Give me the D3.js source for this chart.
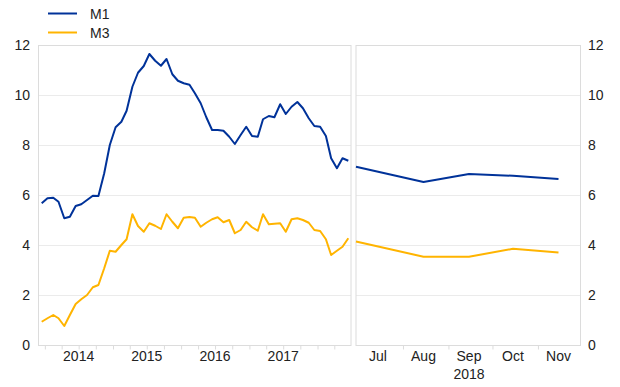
<!DOCTYPE html>
<html>
<head>
<meta charset="utf-8">
<script src="https://cdn.jsdelivr.net/npm/d3@7/dist/d3.min.js"></script>
<style>
  html, body { margin: 0; padding: 0; background: #fff; }
  text { font-family: "Liberation Sans", Arial, Helvetica, sans-serif; font-size: 14px; fill: #222; }
</style>
</head>
<body>
<svg id="chart" width="620" height="387"></svg>
<script>
// ---------- DATA ----------
const seriesNames = ["M1", "M3"];
const seriesColors = ["#003299", "#FFB400"];

// Monthly history: Dec 2013 .. Jun 2018 (annual growth, %)
const historyStart = "2013-12-15";
const m1History = [5.69, 5.89, 5.91, 5.75, 5.09, 5.15, 5.58, 5.65, 5.82, 5.99,
                   5.98, 6.89, 8.02, 8.73, 8.95, 9.39, 10.35, 10.91, 11.18, 11.66,
                   11.39, 11.19, 11.46, 10.85, 10.59, 10.49, 10.43, 10.09, 9.69, 9.13,
                   8.62, 8.62, 8.59, 8.35, 8.06, 8.42, 8.75, 8.38, 8.35, 9.05,
                   9.18, 9.13, 9.65, 9.26, 9.55, 9.74, 9.49, 9.09, 8.78, 8.75,
                   8.38, 7.49, 7.09, 7.49, 7.39];
const m3History = [0.95, 1.09, 1.22, 1.09, 0.78, 1.22, 1.66, 1.85, 2.02, 2.33,
                   2.42, 3.09, 3.79, 3.75, 4.02, 4.25, 5.25, 4.78, 4.55, 4.89,
                   4.79, 4.66, 5.25, 4.95, 4.69, 5.11, 5.14, 5.11, 4.75, 4.91,
                   5.05, 5.13, 4.93, 5.02, 4.49, 4.62, 4.95, 4.73, 4.59, 5.25,
                   4.85, 4.87, 4.89, 4.55, 5.05, 5.09, 5.02, 4.91, 4.62, 4.58,
                   4.25, 3.62, 3.79, 3.95, 4.29];
const yearLabels = ["2014", "2015", "2016", "2017"];

// Recent months (2018)
const recentDates = ["2018-06-30", "2018-08-15", "2018-09-15", "2018-10-15", "2018-11-15"];
const m1Recent = [7.15, 6.54, 6.86, 6.79, 6.66];
const m3Recent = [4.16, 3.55, 3.55, 3.87, 3.72];
const monthLabels = ["Jul", "Aug", "Sep", "Oct", "Nov"];
const recentYearLabel = "2018";

const yTicks = [0, 2, 4, 6, 8, 10, 12];

// ---------- LAYOUT ----------
const svg = d3.select("#chart");
const parse = d3.timeParse("%Y-%m-%d");
const yTop = 45.5, yBottom = 345.5;
const left = { x0: 38.5, x1: 351, d0: 41.7, d1: 348.3 };
const right = { x0: 356, x1: 580.5 };
const gridColor = "#ebebeb";
const frameColor = "#dcdcdc";

const y = d3.scaleLinear().domain([0, 12]).range([yBottom, yTop]);

const histDates = d3.range(m1History.length).map(i => d3.timeMonth.offset(parse(historyStart), i));
const xL = d3.scaleTime()
  .domain([histDates[0], histDates[histDates.length - 1]])
  .range([left.d0, left.d1]);

const recDates = recentDates.map(parse);
const xR = d3.scaleTime()
  .domain([parse("2018-06-30"), parse("2018-11-30")])
  .range([right.x0, right.x1]);

// ---------- PANELS ----------
function panel(x0, x1) {
  const g = svg.append("g");
  g.selectAll("line.grid").data(yTicks.filter(t => t > 0 && t < 12)).enter()
    .append("line")
    .attr("x1", x0).attr("x2", x1)
    .attr("y1", d => y(d)).attr("y2", d => y(d))
    .attr("stroke", gridColor).attr("stroke-width", 1);
  g.append("rect")
    .attr("x", x0).attr("y", y(12))
    .attr("width", x1 - x0).attr("height", y(0) - y(12))
    .attr("fill", "none").attr("stroke", frameColor).attr("stroke-width", 1);
  return g;
}
panel(left.x0, left.x1);
panel(right.x0, right.x1);

// Y axes (text only)
const yAxisL = d3.axisLeft(y).tickValues(yTicks).tickSize(0).tickPadding(0);
const gyl = svg.append("g").attr("transform", "translate(30,0)").call(yAxisL);
gyl.select(".domain").remove();
gyl.selectAll("text").style("font-size", "14px").style("fill", "#222")
  .style("font-family", "'Liberation Sans', Arial, sans-serif");

const yAxisR = d3.axisRight(y).tickValues(yTicks).tickSize(0).tickPadding(0);
const gyr = svg.append("g").attr("transform", "translate(588,0)").call(yAxisR);
gyr.select(".domain").remove();
gyr.selectAll("text").style("font-size", "14px").style("fill", "#222")
  .style("font-family", "'Liberation Sans', Arial, sans-serif");

// Left X axis: quarterly minor ticks, year labels at mid-year
const quarterTicks = d3.timeMonth.every(3).range(parse("2014-01-01"), parse("2018-07-01"));
const xAxisL = d3.axisBottom(xL).tickValues(quarterTicks).tickSize(4).tickFormat("");
const gxl = svg.append("g").attr("transform", `translate(0,${yBottom})`).call(xAxisL);
gxl.select(".domain").remove();
gxl.selectAll("line").attr("stroke", frameColor);
svg.append("g").selectAll("text").data(yearLabels).enter()
  .append("text")
  .attr("x", d => xL(parse(d + "-07-01")))
  .attr("y", 361)
  .attr("text-anchor", "middle")
  .text(d => d);

// Right X axis: monthly minor ticks, labels at mid-month
const monthTicks = d3.timeMonth.range(parse("2018-08-01"), parse("2018-12-01"));
const xAxisR = d3.axisBottom(xR).tickValues(monthTicks).tickSize(4).tickFormat("");
const gxr = svg.append("g").attr("transform", `translate(0,${yBottom})`).call(xAxisR);
gxr.select(".domain").remove();
gxr.selectAll("line").attr("stroke", frameColor);
const monthMid = ["2018-07-15", "2018-08-15", "2018-09-15", "2018-10-15", "2018-11-15"];
svg.append("g").selectAll("text").data(monthLabels).enter()
  .append("text")
  .attr("x", (d, i) => xR(parse(monthMid[i])))
  .attr("y", 361)
  .attr("text-anchor", "middle")
  .text(d => d);
svg.append("text")
  .attr("x", xR(parse(monthMid[2])))
  .attr("y", 379)
  .attr("text-anchor", "middle")
  .text(recentYearLabel);

// ---------- LINES ----------
const lineL = d3.line().x((d, i) => xL(histDates[i])).y(d => y(d));
const lineR = d3.line().x((d, i) => xR(recDates[i])).y(d => y(d));

[m3History, m1History].forEach((s, k) => {
  svg.append("path").datum(s).attr("d", lineL)
    .attr("fill", "none").attr("stroke", seriesColors[1 - k])
    .attr("stroke-width", 2).attr("stroke-linejoin", "round");
});
[m3Recent, m1Recent].forEach((s, k) => {
  svg.append("path").datum(s).attr("d", lineR)
    .attr("fill", "none").attr("stroke", seriesColors[1 - k])
    .attr("stroke-width", 2).attr("stroke-linejoin", "round");
});

// ---------- LEGEND ----------
const legend = svg.append("g");
seriesNames.forEach((name, i) => {
  const ly = 13.5 + i * 19;
  legend.append("line")
    .attr("x1", 48).attr("x2", 77).attr("y1", ly).attr("y2", ly)
    .attr("stroke", seriesColors[i]).attr("stroke-width", 2);
  legend.append("text")
    .attr("x", 90).attr("y", ly + 5)
    .text(name);
});
</script>
</body>
</html>
